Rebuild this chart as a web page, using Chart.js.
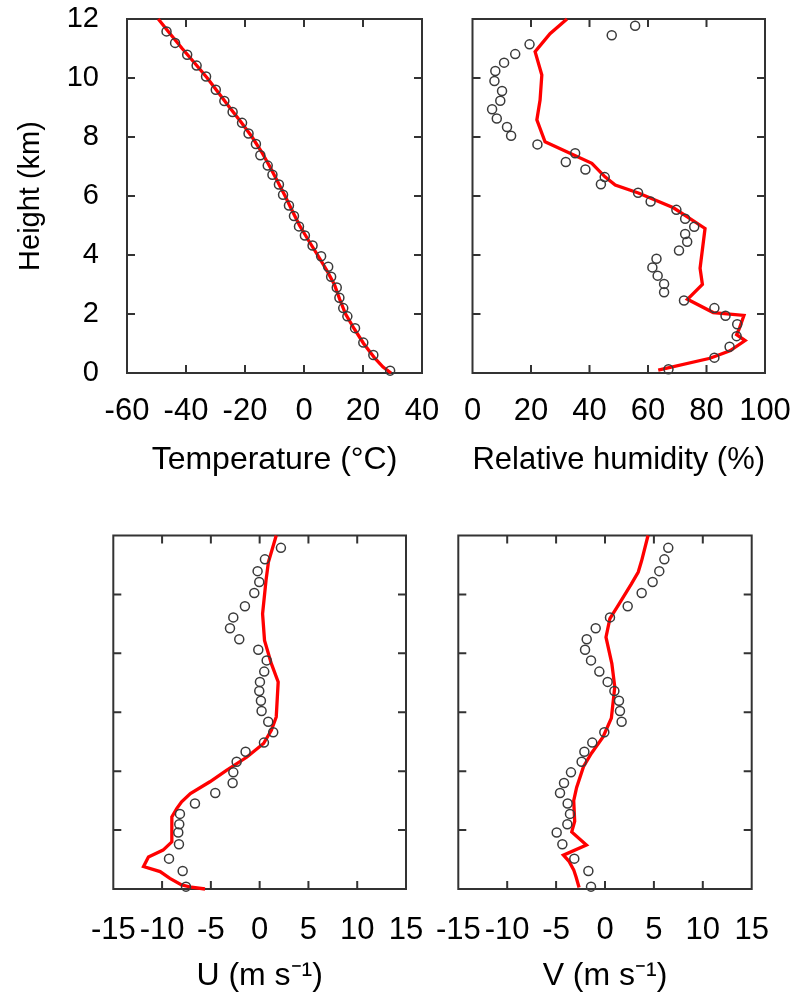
<!DOCTYPE html>
<html lang="en">
<head>
    <meta charset="UTF-8">
    <script src="https://cdn.jsdelivr.net/npm/chart.js"></script>
    <title>Profiles</title>
    <style>
        body { margin: 0; background: #fff; }
        .panel { position: absolute; }
    </style>
</head>
<body>
    <canvas id="chartTemp" class="panel" width="440" height="495" style="left:0;top:0"></canvas>
    <canvas id="chartRH" class="panel" width="355" height="495" style="left:440px;top:0"></canvas>
    <canvas id="chartU" class="panel" width="440" height="495" style="left:0;top:500px"></canvas>
    <canvas id="chartV" class="panel" width="375" height="495" style="left:420px;top:500px"></canvas>

    <script>
        // observed levels (km) shared by temperature, U and V
        const obsHeight = [0.08, 0.61, 1.03, 1.52, 1.92, 2.20, 2.55, 2.90, 3.26, 3.60, 3.96, 4.32, 4.66, 4.97, 5.32, 5.68,
                           6.04, 6.39, 6.72, 7.03, 7.38, 7.76, 8.12, 8.48, 8.85, 9.22, 9.60, 10.05, 10.42, 10.79, 11.19, 11.58];
        const obsTemp = [29.2, 23.5, 20.1, 17.3, 14.7, 13.3, 12.0, 11.1, 9.2, 8.2, 5.8, 2.9, 0.3, -1.7, -3.4, -5.1,
                         -7.1, -8.5, -10.7, -12.3, -14.8, -16.3, -18.8, -21.0, -24.2, -27.0, -29.9, -33.2, -36.4, -39.6, -43.7, -46.6];
        const obsU = [-7.55, -7.89, -9.29, -8.27, -8.34, -8.24, -8.17, -6.63, -4.55, -2.77, -2.70, -2.36, -1.44, 0.44, 1.39, 0.88,
                      0.20, 0.13, -0.04, 0.03, 0.47, 0.72, -0.14, -2.09, -3.04, -2.70, -1.51, -0.55, -0.04, -0.21, 0.54, 2.18];
        const obsV = [-1.43, -1.70, -3.14, -4.36, -4.94, -3.85, -3.58, -3.82, -4.60, -4.19, -3.48, -2.39, -2.11, -1.30, -0.07, 1.70,
                      1.53, 1.43, 0.96, 0.27, -0.58, -1.43, -2.04, -1.87, -0.95, 0.51, 2.32, 3.75, 4.87, 5.55, 6.07, 6.47];

        // humidity observations have their own levels
        const rhHeight = [0.13, 0.52, 0.89, 1.25, 1.65, 1.94, 2.20, 2.46, 2.74, 3.02, 3.30, 3.58, 3.87, 4.15, 4.45, 4.71, 4.96, 5.23, 5.53, 5.81,
                          6.11, 6.40, 6.64, 6.90, 7.15, 7.45, 7.75, 8.04, 8.34, 8.63, 8.94, 9.23, 9.56, 9.90, 10.24, 10.52, 10.81, 11.14, 11.45, 11.77];
        const obsRH = [67.0, 82.7, 87.9, 90.3, 90.5, 86.5, 82.7, 72.3, 65.5, 65.5, 63.3, 61.5, 62.9, 70.6, 73.4, 72.7, 75.8, 72.7, 69.7, 60.9,
                       56.6, 43.9, 45.2, 38.6, 31.9, 35.1, 22.2, 13.2, 11.8, 8.3, 6.7, 9.5, 10.1, 7.5, 7.8, 10.8, 14.6, 19.5, 47.6, 55.6];

        // model profiles (red lines)
        const modelTempHeight = [0, 0.2, 0.5, 1, 1.5, 2, 2.5, 3, 3.5, 4, 4.5, 5, 5.5, 6, 6.5, 7, 7.5, 8, 8.5, 9, 9.5, 10, 10.5, 11, 11.5, 12];
        const modelTemp = [29.5, 26.8, 24.0, 20.2, 17.0, 14.1, 12.1, 10.3, 7.6, 4.6, 1.5, -1.5, -4.0, -6.4, -9.0, -11.6,
                           -14.4, -17.6, -21.3, -25.2, -29.0, -32.8, -37.0, -41.3, -45.4, -49.4];
        const modelRHHeight = [0.1, 0.5, 0.75, 1.1, 1.3, 1.5, 1.95, 2.05, 2.5, 3.0, 3.55, 4.9, 5.6, 6.1, 6.37, 6.65, 7.11, 7.84, 8.58, 9.25, 10.1, 10.89, 11.5, 12];
        const modelRH = [63.5, 81.2, 88.0, 93.2, 90.3, 91.2, 92.8, 82.3, 73.5, 78.6, 77.8, 79.5, 68.7, 56.7, 48.8, 45.3, 40.8, 24.8, 22.0, 23.1, 23.7, 21.4, 26.5, 32.3];
        const modelUHeight = [0, 0.06, 0.14, 0.36, 0.59, 0.76, 1.09, 1.32, 1.6, 2.45, 2.73, 2.96, 3.24, 3.64, 4.03, 4.48, 4.94, 5.39, 5.84, 7.03, 7.65, 8.44, 9.34, 10.47, 11.1, 12];
        const modelU = [-5.6, -7.0, -8.0, -9.2, -10.2, -11.9, -11.4, -9.9, -9.0, -9.0, -8.5, -8.0, -7.1, -5.1, -3.4, -1.3, 0.4, 1.2, 1.7, 1.9, 1.2, 0.5, 0.3, 0.65, 0.9, 1.7];
        const modelVHeight = [0.05, 0.4, 0.65, 0.95, 1.15, 1.49, 1.94, 2.3, 3.0, 3.45, 4.15, 4.6, 5.16, 5.8, 6.86, 7.65, 8.55, 9.18, 9.63, 10.36, 10.76, 11.15, 12];
        const modelV = [-2.65, -2.95, -3.2, -3.7, -4.25, -1.9, -3.4, -3.1, -3.2, -2.9, -2.2, -1.4, -0.2, 0.65, 1.0, 0.7, 0.1, 0.5, 1.35, 2.7, 3.4, 3.75, 4.4];

        Chart.defaults.font.family = "'Liberation Sans', Arial, sans-serif";
        Chart.defaults.font.size = 29;
        Chart.defaults.color = '#000';

        // box round the plot area with inward tick marks on all four sides
        const framePlugin = {
            id: 'frame',
            beforeDatasetsDraw(chart) {
                const {ctx, chartArea: a, scales: {x, y}} = chart;
                ctx.save();
                ctx.strokeStyle = '#333';
                ctx.lineWidth = 2;
                ctx.strokeRect(a.left, a.top, a.width, a.height);
                ctx.beginPath();
                x.ticks.forEach(t => {
                    const px = x.getPixelForValue(t.value);
                    if (px < a.left + 2 || px > a.right - 2) return;
                    ctx.moveTo(px, a.bottom); ctx.lineTo(px, a.bottom - 8);
                    ctx.moveTo(px, a.top); ctx.lineTo(px, a.top + 8);
                });
                y.ticks.forEach(t => {
                    const py = y.getPixelForValue(t.value);
                    if (py < a.top + 2 || py > a.bottom - 2) return;
                    ctx.moveTo(a.left, py); ctx.lineTo(a.left + 8, py);
                    ctx.moveTo(a.right, py); ctx.lineTo(a.right - 8, py);
                });
                ctx.stroke();
                ctx.restore();
            }
        };

        function pairs(xs, ys) {
            return xs.map((v, i) => ({x: v, y: ys[i]}));
        }

        function makePanel(id, p) {
            const ctx = document.getElementById(id).getContext('2d');
            return new Chart(ctx, {
                type: 'scatter',
                data: {
                    datasets: [{
                        data: pairs(p.obsX, p.obsY),
                        pointRadius: 4.5,
                        pointBorderColor: '#3a3a3a',
                        pointBorderWidth: 1.5,
                        pointBackgroundColor: 'rgba(0,0,0,0)',
                        clip: false
                    }, {
                        data: pairs(p.lineX, p.lineY),
                        showLine: true,
                        borderColor: '#ff0000',
                        borderWidth: 3.3,
                        pointRadius: 0,
                        tension: 0,
                        clip: false
                    }]
                },
                options: {
                    responsive: false,
                    animation: false,
                    events: [],
                    layout: { padding: { top: p.padTop, right: p.padRight, left: 0, bottom: 0 } },
                    plugins: { legend: { display: false }, tooltip: { enabled: false } },
                    scales: {
                        x: {
                            type: 'linear',
                            min: p.xMin, max: p.xMax,
                            grid: { display: false, drawTicks: false },
                            border: { display: false },
                            ticks: { stepSize: p.xStep, padding: p.xPad, autoSkip: false, maxRotation: 0, minRotation: 0,
                                     font: { size: 31 } },
                            title: { display: true, text: p.xTitle, font: { size: 32 }, padding: { top: 0, bottom: p.titlePad } },
                            afterFit: s => { s.height = p.xHeight; s.paddingLeft = 0; s.paddingRight = 0; }
                        },
                        y: {
                            type: 'linear',
                            min: 0, max: 12,
                            grid: { display: false, drawTicks: false },
                            border: { display: false },
                            ticks: { stepSize: 2, padding: 28, display: p.yLabels },
                            title: { display: p.yLabels, text: 'Height (km)', padding: { top: 14, bottom: 0 } },
                            afterFit: s => { s.width = p.yWidth; s.paddingTop = 0; s.paddingBottom = 0; }
                        }
                    }
                },
                plugins: [framePlugin]
            });
        }

        const tempChart = makePanel('chartTemp', {
            obsX: obsTemp, obsY: obsHeight, lineX: modelTemp, lineY: modelTempHeight,
            xMin: -60, xMax: 40, xStep: 20, xTitle: 'Temperature (°C)',
            yLabels: true, yWidth: 127, padTop: 19, padRight: 18, xHeight: 122, xPad: 20, titlePad: 16
        });

        const rhChart = makePanel('chartRH', {
            obsX: obsRH, obsY: rhHeight, lineX: modelRH, lineY: modelRHHeight,
            xMin: 0, xMax: 100, xStep: 20, xTitle: 'Relative humidity (%)',
            yLabels: false, yWidth: 32.5, padTop: 19, padRight: 30, xHeight: 122, xPad: 20, titlePad: 16
        });

        const uChart = makePanel('chartU', {
            obsX: obsU, obsY: obsHeight, lineX: modelU, lineY: modelUHeight,
            xMin: -15, xMax: 15, xStep: 5, xTitle: 'U (m s⁻¹)',
            yLabels: false, yWidth: 113.3, padTop: 35.5, padRight: 34, xHeight: 106, xPad: 23, titlePad: 0
        });

        const vChart = makePanel('chartV', {
            obsX: obsV, obsY: obsHeight, lineX: modelV, lineY: modelVHeight,
            xMin: -15, xMax: 15, xStep: 5, xTitle: 'V (m s⁻¹)',
            yLabels: false, yWidth: 38.3, padTop: 35.5, padRight: 43.3, xHeight: 106, xPad: 23, titlePad: 0
        });
    </script>
</body>
</html>
